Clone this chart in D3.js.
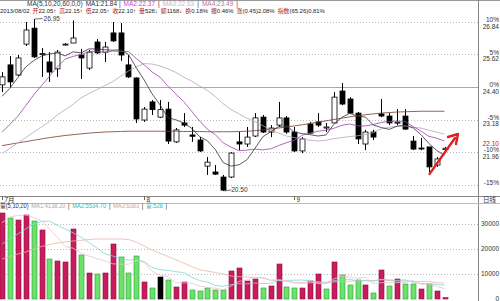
<!DOCTYPE html>
<html>
<head>
<meta charset="utf-8">
<script src="https://cdn.jsdelivr.net/npm/d3@7"></script>
<style>
body { margin: 0; background: #fff; }
svg { display: block; font-family: "Liberation Sans", "Noto Sans CJK SC", sans-serif; }
</style>
</head>
<body>
<svg id="chart" width="500" height="301"></svg>
<script>
// daily candles, 2013
var opens  = [24.48,25.23,24.85,26.01,26.61,25.62,25.34,25.08,25.98,26.05,25.60,25.11,26.09,25.71,26.43,26.43,25.23,24.74,23.16,23.84,23.27,23.57,22.34,23.05,22.60,22.41,21.43,21.21,21.02,21.02,22.34,22.26,22.56,23.27,22.71,22.97,23.24,22.71,22.00,23.01,23.09,22.86,23.05,24.25,23.95,23.42,22.26,22.71,23.39,23.31,23.05,23.31,22.37,22.11,22.15,21.47,22.05];
var highs  = [24.96,25.56,25.60,26.84,26.95,25.86,25.71,25.79,26.05,26.90,25.83,25.79,26.20,26.09,26.84,26.80,25.60,24.76,23.65,23.91,23.91,23.84,22.86,23.42,22.90,22.52,21.77,21.47,21.10,21.96,22.71,22.90,23.42,23.35,22.97,23.84,23.31,22.90,22.52,23.09,23.42,23.05,24.21,24.55,24.02,23.46,22.79,22.79,23.95,23.42,23.57,23.57,22.56,22.49,22.15,21.77,22.15];
var lows   = [24.21,24.40,24.81,25.94,25.49,24.78,24.59,24.78,25.96,26.05,24.70,25.04,25.64,25.34,26.09,25.38,24.74,23.05,23.09,23.35,23.24,22.26,22.30,22.90,22.34,21.96,21.10,21.10,20.50,20.98,22.03,22.15,22.52,22.67,22.52,22.90,22.64,21.96,21.92,22.64,22.90,22.71,23.05,23.72,23.39,22.26,22.03,22.41,23.27,22.97,22.97,22.79,22.03,22.03,21.21,21.40,22.05];
var closes = [24.78,24.59,25.49,26.54,25.53,25.66,24.96,25.71,26.01,26.24,25.49,25.71,25.68,25.90,26.13,25.60,24.78,23.20,23.57,23.55,23.55,22.37,22.79,22.97,22.55,22.00,21.58,21.13,20.53,21.92,22.26,22.52,23.24,22.71,22.86,23.24,22.71,22.00,22.45,22.67,22.97,22.90,24.02,23.76,23.42,22.45,22.71,22.52,23.31,23.05,23.08,22.82,22.07,22.10,21.40,21.70,22.10];
var volumes = [34400,32400,31600,33600,31200,27600,16000,15200,14800,28000,17600,10400,10000,10400,22000,16800,10400,17200,6800,4400,8800,7600,4800,6800,3600,3200,4400,3600,3600,11200,12400,7200,8000,4400,5200,14000,4800,4400,4400,7200,10000,4000,14800,9600,5600,7600,5600,2400,11600,5200,8000,6000,6000,4000,6000,3200,528];

// moving averages as drawn on the chart
var ma5  = [24.05,24.35,24.75,25.15,25.39,25.56,25.64,25.68,25.57,25.72,25.68,25.83,25.83,25.80,25.78,25.80,25.62,25.12,24.66,24.14,23.73,23.25,23.17,23.05,22.85,22.54,22.38,22.05,21.56,21.43,21.48,21.67,22.09,22.53,22.72,22.91,22.95,22.70,22.65,22.61,22.56,22.60,23.00,23.26,23.41,23.31,23.27,22.97,22.88,22.81,22.93,22.96,22.87,22.62,22.29,22.02,21.84];
var ma10 = [22.70,23.00,23.30,23.70,24.10,24.45,24.80,25.15,25.45,25.55,25.62,25.73,25.75,25.69,25.75,25.74,25.73,25.47,25.23,24.96,24.77,24.43,24.14,23.85,23.49,23.13,22.81,22.61,22.30,22.14,22.01,22.03,22.07,22.04,22.08,22.20,22.31,22.40,22.59,22.67,22.74,22.78,22.85,22.96,23.01,22.94,22.94,22.99,23.07,23.11,23.12,23.11,22.92,22.75,22.55,22.48,22.37];
var ma20 = [21.90,22.10,22.30,22.50,22.70,22.90,23.10,23.35,23.55,23.75,23.99,24.15,24.30,24.45,24.60,24.80,25.00,25.15,25.28,25.26,25.19,25.08,24.95,24.77,24.62,24.44,24.27,24.04,23.77,23.55,23.39,23.23,23.11,22.95,22.78,22.67,22.56,22.50,22.45,22.40,22.37,22.40,22.46,22.50,22.54,22.57,22.62,22.69,22.83,22.89,22.93,22.94,22.89,22.86,22.78,22.71,22.63];
var ma60 = [22.20,22.25,22.30,22.35,22.40,22.45,22.50,22.54,22.58,22.61,22.64,22.67,22.69,22.71,22.72,22.73,22.74,22.74,22.74,22.74,22.74,22.74,22.74,22.73,22.73,22.73,22.72,22.72,22.72,22.72,22.73,22.74,22.76,22.79,22.82,22.86,22.90,22.94,22.98,23.03,23.08,23.13,23.18,23.23,23.28,23.32,23.36,23.39,23.42,23.44,23.46,23.47,23.48,23.49,23.49,23.49,23.49];
var vma5  = [30500,32800,33400,33600,32640,31280,28000,24720,20960,20320,18320,17200,16160,15280,14080,13920,13920,15360,14640,11120,9520,8960,6480,6480,6320,5200,4560,4320,3680,5200,7040,7600,8480,8640,7440,7760,7280,6560,6560,6960,6160,6000,8080,9120,8800,8320,8640,6160,6560,6480,6560,6640,7360,5840,6000,5040,4138];
var vma10 = [22000,24000,26000,28000,30000,31000,31200,29500,28000,26480,24800,22600,20440,18120,17200,16120,15560,15760,14960,12600,11720,11440,10920,10560,8720,7360,6760,5400,5080,5760,6120,6080,6400,6160,6320,7400,7440,7520,7600,7200,6960,6640,7320,7840,7880,7240,7320,7120,7840,7640,7440,7640,6760,6200,6240,5800,5535];
var vma20 = [16000,17000,18000,18800,20000,21000,21800,22400,22800,23200,23500,23800,24000,24000,24000,24000,23800,22800,21200,19540,18260,17020,15680,14340,12960,11740,11160,10580,10020,9180,8920,8760,8660,8360,7520,7380,7100,6460,6340,6480,6540,6360,6860,7000,7100,7320,7380,7320,7720,7420,7200,7140,7040,7020,7060,6520,6383];

var priceTicks = [26.84, 25.62, 24.40, 23.18, 21.96, 20.74];
var pctLabels  = ['10%', '5%', '0%', '-5%', '-10%', '-15%'];
var volTicks   = [0, 10000, 20000, 30000];
var dateLabels = [{i: 0, t: '7月'}, {i: 18, t: '8'}, {i: 37, t: '9'}];

// header texts: [colour, text]
var maHeader = [['#333', 'MA(5,10,20,60,0,0)'], ['#333', 'MA1:21.84 |'], ['#d040d0', 'MA2:22.37'], ['#333', '|'],
    ['#e0a8c8', 'MA3:22.63'], ['#333', '|'], ['#c070a0', 'MA4:23.49'], ['#333', '|']];
var quoteLabels = ['', '开', '高', '低', '收', '量', '额', '换', '振', '涨', '指数'];
var quoteValues = ['2013/08/02', '22.05↑', '22.15↑', '22.05↑', '22.10↑', '528↓', '1168↓', '0.18%', '0.46%', '(0.45)2.08%', '(65.26)0.81%'];
var volHeader = [['#333', '量(5,10,20)'], ['#aaa', 'MA1:4138.20'], ['#333', '|'], ['#40b8b8', 'MA2:5534.70'], ['#333', '|'],
    ['#d0a890', 'MA3:6383'], ['#333', '|'], ['#40b8b8', '量:528'], ['#333', '|']];

function KChart(container) {
    this.svg = d3.select(container);
    this.n = closes.length;
    this.init();
}

KChart.prototype = {
    init: function () {
        var svg = this.svg;
        var axisX = 478;

        this.x = d3.scaleLinear().domain([0, this.n - 1]).range([2, 444.5]);
        this.y = d3.scaleLinear().domain([21.96, 26.84]).range([152, 22]);
        this.yv = d3.scaleLinear().domain([0, 30000]).range([299, 224]);
        var x = this.x, y = this.y, yv = this.yv;

        // frame
        svg.append('line').attr('x1', 0).attr('x2', 500).attr('y1', 0.5).attr('y2', 0.5).attr('stroke', '#999');
        svg.append('line').attr('x1', axisX + 0.5).attr('x2', axisX + 0.5).attr('y1', 0).attr('y2', 301).attr('stroke', '#888');
        svg.append('line').attr('x1', 0).attr('x2', 500).attr('y1', 196.5).attr('y2', 196.5).attr('stroke', '#888');
        svg.append('line').attr('x1', 0).attr('x2', 500).attr('y1', 203.5).attr('y2', 203.5).attr('stroke', '#bbb');

        // price grid
        svg.selectAll('.pgrid').data(priceTicks).enter().append('line')
            .attr('x1', 0).attr('x2', axisX)
            .attr('y1', function (d) { return Math.round(y(d)) + 0.5; })
            .attr('y2', function (d) { return Math.round(y(d)) + 0.5; })
            .attr('stroke', function (d) { return d === 24.40 ? '#aaa' : '#bbb'; })
            .attr('stroke-dasharray', function (d) { return d === 24.40 ? null : '1,2'; });

        // volume grid
        svg.selectAll('.vgrid').data(volTicks.slice(1)).enter().append('line')
            .attr('x1', 0).attr('x2', axisX)
            .attr('y1', function (d) { return Math.round(yv(d)) + 0.5; })
            .attr('y2', function (d) { return Math.round(yv(d)) + 0.5; })
            .attr('stroke', '#bbb').attr('stroke-dasharray', '1,2');

        // right axis labels
        var lab = svg.append('g').attr('font-size', 6.5).attr('fill', '#333').attr('text-anchor', 'end');
        priceTicks.forEach(function (t, k) {
            lab.append('text').attr('x', 499).attr('y', y(t) + 0.3).text(pctLabels[k]);
            if (k < 5) lab.append('text').attr('x', 499).attr('y', y(t) + 6.6).text(t.toFixed(2));
        });
        volTicks.forEach(function (t) {
            lab.append('text').attr('x', 499).attr('y', yv(t) + 2).text(t);
        });
        var last = closes[this.n - 1];
        lab.append('text').attr('x', 499).attr('y', y(last) - 1.8).attr('fill', '#e00').text(last.toFixed(2));

        // date axis
        var dl = svg.append('g').attr('font-size', 6.5).attr('fill', '#333');
        dateLabels.forEach(function (d) {
            var px = Math.round(x(d.i)) + 0.5;
            dl.append('line').attr('x1', px).attr('x2', px).attr('y1', 196).attr('y2', 200).attr('stroke', '#666');
            dl.append('text').attr('x', px + 2).attr('y', 202).text(d.t);
        });
        svg.append('text').attr('x', 483).attr('y', 202).attr('font-size', 6.5).attr('fill', '#333').text('日线');

        this.drawCandles();
        this.drawLines();
        this.drawVolume();
        this.drawHeaders();
        this.drawNotes();
    },

    drawCandles: function () {
        var x = this.x, y = this.y;
        var idx = d3.range(this.n);
        var g = this.svg.append('g');
        g.selectAll('.wick').data(idx).enter().append('line')
            .attr('x1', function (i) { return Math.round(x(i)) + 0.5; })
            .attr('x2', function (i) { return Math.round(x(i)) + 0.5; })
            .attr('y1', function (i) { return y(highs[i]); })
            .attr('y2', function (i) { return y(lows[i]); })
            .attr('stroke', '#000');
        g.selectAll('.body').data(idx).enter().append('rect')
            .attr('x', function (i) { return Math.round(x(i)) - 2; })
            .attr('y', function (i) { return y(Math.max(opens[i], closes[i])); })
            .attr('width', 5)
            .attr('height', function (i) { return Math.max(1, Math.abs(y(opens[i]) - y(closes[i]))); })
            .attr('fill', function (i) { return closes[i] >= opens[i] ? '#fff' : '#000'; })
            .attr('stroke', '#000').attr('stroke-width', 0.8);
    },

    drawLines: function () {
        var x = this.x, y = this.y;
        var line = d3.line().x(function (d, i) { return x(i); }).y(function (d) { return y(d); });
        var series = [[ma60, '#7a3a2a'], [ma20, '#b8a4c4'], [ma10, '#a040b0'], [ma5, '#333']];
        var g = this.svg.append('g').attr('fill', 'none');
        series.forEach(function (s) {
            g.append('path').datum(s[0]).attr('d', line).attr('stroke', s[1]).attr('stroke-width', 0.8);
        });
    },

    drawVolume: function () {
        var x = this.x, yv = this.yv;
        var idx = d3.range(this.n);
        var dir = function (i) {
            if (i === 0) return 1;
            return closes[i] > closes[i - 1] ? 1 : (closes[i] < closes[i - 1] ? -1 : 0);
        };
        var fill = {'1': '#c81c5c', '-1': '#6be36b', '0': '#000'};
        var edge = {'1': '#8c1040', '-1': '#2f9a2f', '0': '#000'};
        this.svg.append('g').selectAll('rect').data(idx).enter().append('rect')
            .attr('x', function (i) { return Math.round(x(i)) - 2; })
            .attr('y', function (i) { return yv(volumes[i]); })
            .attr('width', 5)
            .attr('height', function (i) { return yv(0) - yv(volumes[i]); })
            .attr('fill', function (i) { return fill[dir(i)]; })
            .attr('stroke', function (i) { return edge[dir(i)]; })
            .attr('stroke-width', 0.6);

        var line = d3.line().x(function (d, i) { return x(i); }).y(function (d) { return yv(d); });
        var series = [[vma20, '#e6b8a8'], [vma10, '#7fd8d8'], [vma5, '#f0c0d0']];
        var g = this.svg.append('g').attr('fill', 'none');
        series.forEach(function (s) {
            g.append('path').datum(s[0]).attr('d', line).attr('stroke', s[1]).attr('stroke-width', 0.8);
        });
    },

    // a row of text pieces, each piece made of coloured spans; the row is squeezed to span [x0, x1]
    textRow: function (pieces, x0, x1, ty, fs) {
        var gap = 3;
        var g = this.svg.append('g').attr('font-size', fs);
        var cx = 0;
        pieces.forEach(function (spans) {
            var t = g.append('text').attr('x', cx).attr('y', ty);
            spans.forEach(function (s) {
                if (s[1]) t.append('tspan').attr('fill', s[0]).text(s[1]);
            });
            cx += t.node().getComputedTextLength() + gap;
        });
        var k = (x1 - x0) / (cx - gap);
        g.attr('transform', 'translate(' + x0 + ',0) scale(' + Math.min(1, k) + ',1)');
    },

    drawHeaders: function () {
        var wrap = function (list) { return list.map(function (p) { return [p]; }); };
        this.textRow(wrap(maHeader), 27, 245, 5.5, 6.5);
        var quote = quoteValues.map(function (v, i) { return [['#b02020', quoteLabels[i]], ['#222', v]]; });
        this.textRow(quote, 0, 325, 13.5, 6);
        this.textRow(wrap(volHeader), 0, 167, 208, 6.5);
    },

    drawNotes: function () {
        var svg = this.svg, x = this.x, y = this.y;
        var hi = d3.maxIndex(highs), lo = d3.minIndex(lows);
        var g = svg.append('g').attr('font-size', 6.5).attr('fill', '#333').attr('stroke-width', 0.7);
        g.append('line').attr('x1', x(hi) + 1).attr('x2', x(hi) + 9).attr('y1', y(highs[hi])).attr('y2', y(highs[hi]) - 0.5).attr('stroke', '#333');
        g.append('text').attr('x', x(hi) + 10).attr('y', y(highs[hi]) + 1.8).text(highs[hi].toFixed(2));
        g.append('line').attr('x1', x(lo) + 1).attr('x2', x(lo) + 8).attr('y1', y(lows[lo])).attr('y2', y(lows[lo]) - 1).attr('stroke', '#333');
        g.append('text').attr('x', x(lo) + 8).attr('y', y(lows[lo]) + 1).text(lows[lo].toFixed(2));

        // hand-drawn rebound arrow
        var ax = x(this.n - 2) - 7, ay = y(21.40) + 7;
        var bx = 458, by = 134;
        svg.append('line').attr('x1', ax).attr('y1', ay).attr('x2', bx - 3).attr('y2', by + 4)
            .attr('stroke', '#e02020').attr('stroke-width', 2.4).attr('stroke-linecap', 'round');
        svg.append('path').attr('d', 'M' + bx + ',' + by + 'L' + (bx - 10) + ',' + (by + 3) + 'M' + bx + ',' + by + 'L' + (bx - 2) + ',' + (by + 10))
            .attr('stroke', '#e02020').attr('stroke-width', 2.4).attr('fill', 'none').attr('stroke-linecap', 'round');
    }
};

var chart = new KChart('#chart');
</script>
</body>
</html>
